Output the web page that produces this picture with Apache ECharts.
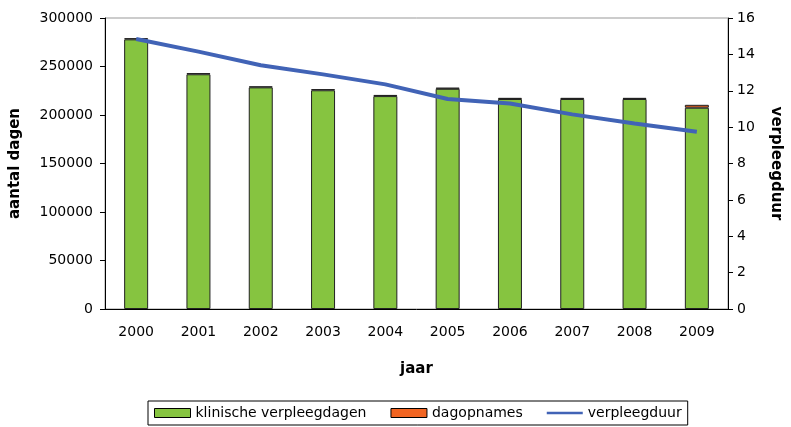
<!DOCTYPE html>
<html>
<head>
<meta charset="utf-8">
<script src="https://cdn.jsdelivr.net/npm/echarts@6/dist/echarts.min.js"></script>
<style>
  html, body { margin: 0; padding: 0; background: #fff; }
  #main { width: 791px; height: 427px; }
</style>
</head>
<body>
<div id="main"></div>
<script>
  // data
  var years = ['2000', '2001', '2002', '2003', '2004', '2005', '2006', '2007', '2008', '2009'];
  var klinisch = [278000, 242000, 228500, 225500, 219500, 227000, 216500, 216500, 216500, 207500];
  var dagopnames = [1200, 1200, 1000, 1200, 1200, 1200, 1200, 1200, 1200, 3000];
  var verpleegduur = [14.85, 14.15, 13.4, 12.9, 12.35, 11.55, 11.3, 10.7, 10.2, 9.75];

  var font = 'DejaVu Sans, sans-serif';

  var chartDom = document.getElementById('main');
  var myChart = echarts.init(chartDom);

  var option = {
    animation: false,
    textStyle: { fontFamily: font },
    grid: {
      left: 105, right: 60, top: 18, bottom: 118,
      show: true, borderColor: '#999', borderWidth: 1
    },
    legend: {
      bottom: 2,
      left: 148,
      borderColor: '#000',
      borderWidth: 1,
      padding: [5, 6, 5, 6],
      itemGap: 24,
      itemWidth: 36,
      itemHeight: 9,
      textStyle: { fontFamily: font, fontSize: 14, color: '#000' },
      data: [
        { name: 'klinische verpleegdagen', icon: 'rect', itemStyle: { borderColor: '#000', borderWidth: 1 } },
        { name: 'dagopnames', icon: 'rect', itemStyle: { borderColor: '#000', borderWidth: 1 } },
        { name: 'verpleegduur', icon: 'path://M0,0 L40,0 L40,3 L0,3 Z', lineStyle: { width: 3 } }
      ]
    },
    xAxis: {
      type: 'category',
      data: years,
      name: 'jaar',
      nameLocation: 'middle',
      nameGap: 53,
      nameTextStyle: { fontFamily: font, fontSize: 15, fontWeight: 'bold', color: '#000' },
      axisLine: { lineStyle: { color: '#000' } },
      axisTick: { length: 5, lineStyle: { color: '#000' } },
      axisLabel: { fontSize: 14, color: '#000', margin: 16 }
    },
    yAxis: [
      {
        type: 'value',
        min: 0, max: 300000, interval: 50000,
        name: 'aantal dagen',
        nameLocation: 'middle',
        nameGap: 82,
        nameTextStyle: { fontFamily: font, fontSize: 15, fontWeight: 'bold', color: '#000' },
        axisLine: { show: true, lineStyle: { color: '#000' } },
        axisTick: { show: true, length: 5, lineStyle: { color: '#000' } },
        axisLabel: { fontSize: 14, color: '#000', margin: 12, formatter: function (v) { return String(v); } },
        splitLine: { show: false }
      },
      {
        type: 'value',
        min: 0, max: 16, interval: 2,
        name: 'verpleegduur',
        nameLocation: 'middle',
        nameGap: 40,
        nameRotate: -90,
        nameTextStyle: { fontFamily: font, fontSize: 15, fontWeight: 'bold', color: '#000' },
        axisLine: { show: true, lineStyle: { color: '#000' } },
        axisTick: { show: true, length: 5, lineStyle: { color: '#000' } },
        axisLabel: { fontSize: 14, color: '#000', margin: 9 },
        splitLine: { show: false }
      }
    ],
    series: [
      {
        name: 'klinische verpleegdagen',
        type: 'bar',
        stack: 'dagen',
        barWidth: 24,
        data: klinisch,
        itemStyle: { color: '#86C440', borderColor: '#222', borderWidth: 1 }
      },
      {
        name: 'dagopnames',
        type: 'bar',
        stack: 'dagen',
        barWidth: 24,
        data: dagopnames,
        itemStyle: { color: '#F26522', borderColor: '#222', borderWidth: 1 }
      },
      {
        name: 'verpleegduur',
        type: 'line',
        yAxisIndex: 1,
        data: verpleegduur,
        symbol: 'none',
        lineStyle: { color: '#4163B6', width: 4 },
        itemStyle: { color: '#4163B6' }
      }
    ]
  };

  myChart.setOption(option);
</script>
</body>
</html>
